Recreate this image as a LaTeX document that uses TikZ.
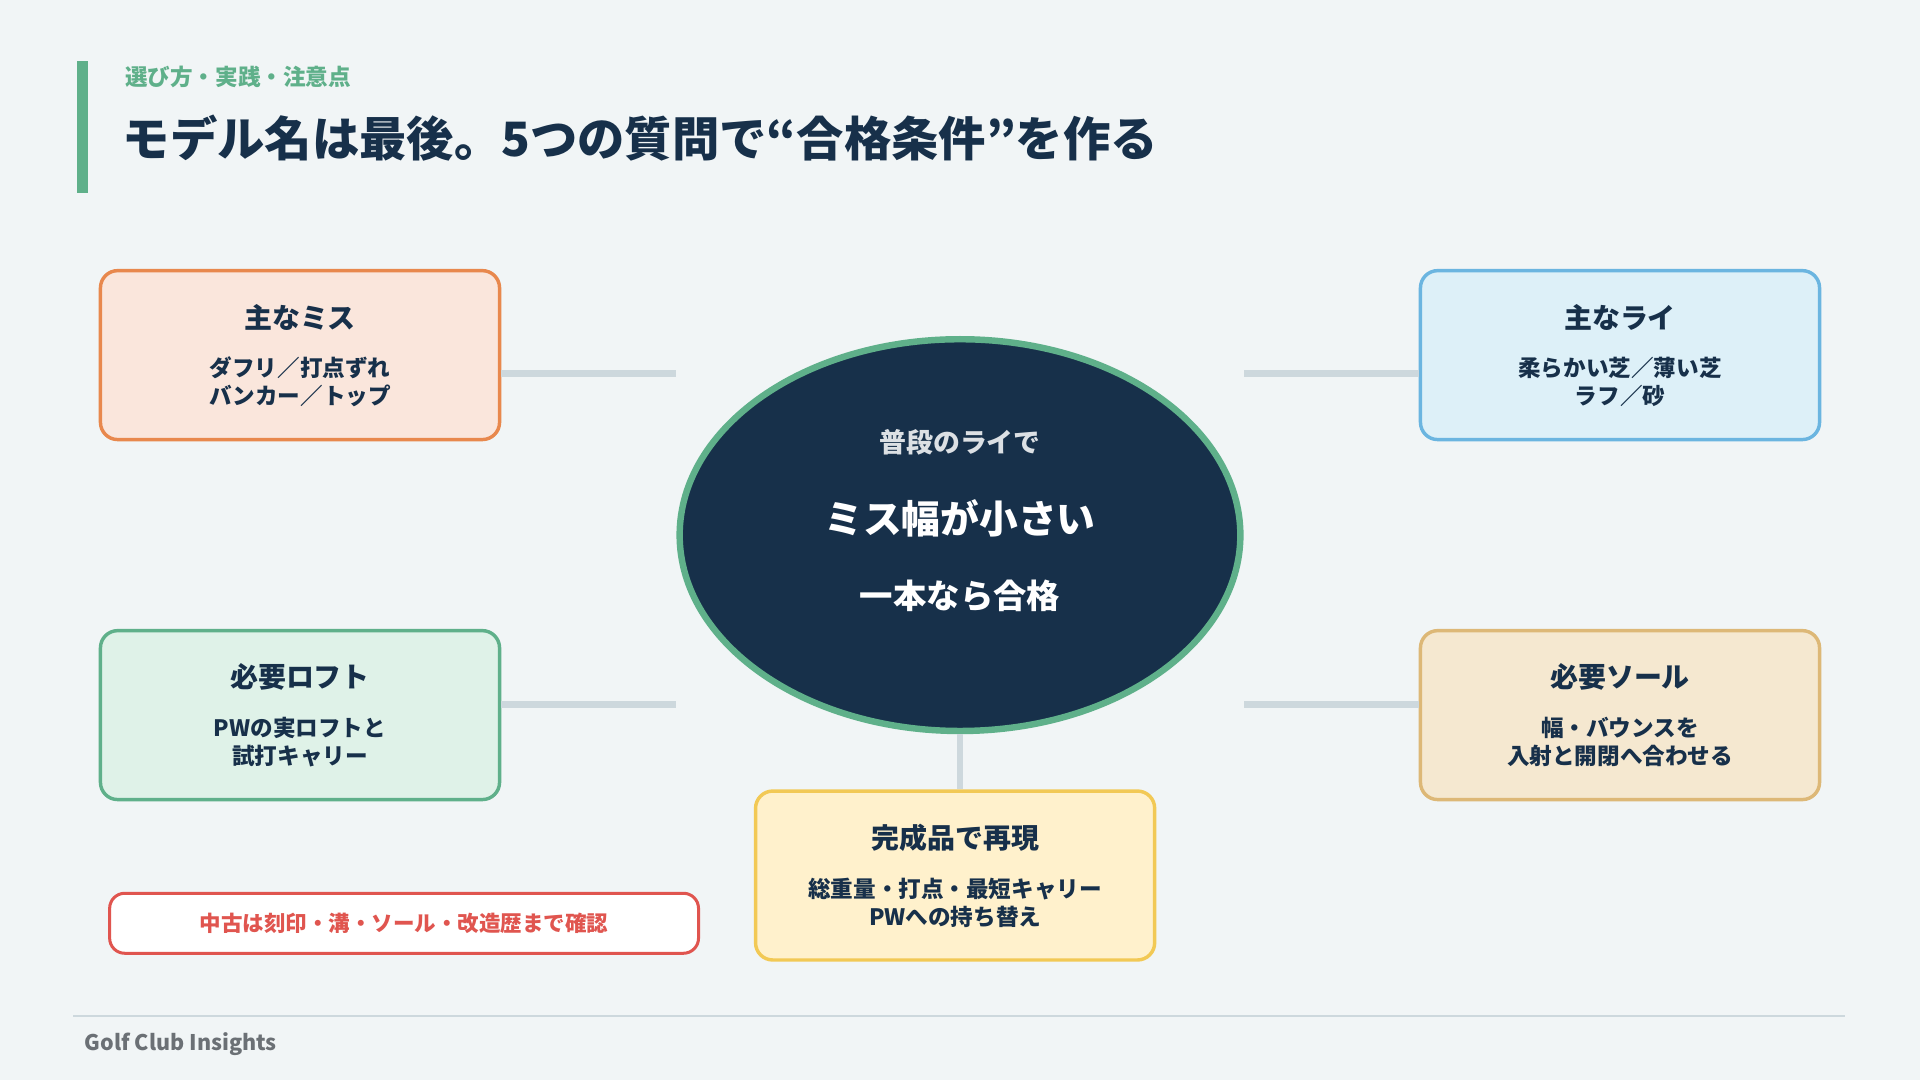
\documentclass[tikz,border=0pt]{standalone}
\usepackage{fontspec}
\setmainfont{Noto Sans CJK JP}
\usetikzlibrary{positioning,shapes.geometric}
\definecolor{bgPale}{HTML}{F1F5F6}
\definecolor{qNavy}{HTML}{17304A}
\definecolor{qGreen}{HTML}{5FB08A}
\definecolor{qLine}{HTML}{CDD8DD}
\definecolor{qRed}{HTML}{E0554F}
\definecolor{qOrangeFill}{HTML}{FAE6DC}
\definecolor{qOrangeLine}{HTML}{E8884D}
\definecolor{qBlueFill}{HTML}{DDF0F8}
\definecolor{qBlueLine}{HTML}{6BB5E0}
\definecolor{qMintFill}{HTML}{DFF2E8}
\definecolor{qSandFill}{HTML}{F5E8D0}
\definecolor{qSandLine}{HTML}{DDB877}
\definecolor{qYellowFill}{HTML}{FFF1CC}
\definecolor{qYellowLine}{HTML}{F2C955}

\begin{document}
\begin{tikzpicture}[
    x=0.02cm, y=-0.02cm,
    font=\bfseries,
    % 質問カード
    card/.style={
        draw, line width=1.6pt, rounded corners=8pt,
        minimum width=6.52cm, minimum height=2.76cm
    },
    cardtitle/.style={text=qNavy, font=\fontsize{13}{15}\selectfont\bfseries},
    cardbody/.style={text=qNavy, align=center, font=\fontsize{10.5}{13}\selectfont\bfseries},
    % 接続線
    link/.style={draw=qLine, line width=3.2pt}
]

    % --- 背景と見出し ---
    \fill[bgPale] (0,0) rectangle (1568,882);
    \fill[qGreen] (63,50) rectangle (72,158);
    \node[anchor=west, text=qGreen, font=\fontsize{10.5}{12}\selectfont\bfseries] (kicker) at (96,63) {選び方・実践・注意点};
    \node[anchor=west, text=qNavy, font=\fontsize{22}{26}\selectfont\bfseries] (title) at (94,113) {モデル名は最後。5つの質問で“合格条件”を作る};

    % --- 中央の楕円 ---
    \node[ellipse, fill=qNavy, draw=qGreen, line width=3pt,
          minimum width=9.16cm, minimum height=6.4cm] (core) at (784,437) {};
    \node[text=white!85!qNavy, font=\fontsize{12.5}{14}\selectfont\bfseries] (c1) at (784,361) {普段のライで};
    \node[text=white, font=\fontsize{18}{21}\selectfont\bfseries] (c2) at (784,423) {ミス幅が小さい};
    \node[text=white, font=\fontsize{15.5}{18}\selectfont\bfseries] (c3) at (784,487) {一本なら合格};

    % --- 5つのカード ---
    \node[card, fill=qOrangeFill, draw=qOrangeLine] (miss) at (245,290) {};
    \node[cardtitle] at (245,259) {主なミス};
    \node[cardbody] at (245,312) {ダフリ／打点ずれ\\バンカー／トップ};

    \node[card, fill=qBlueFill, draw=qBlueLine] (lie) at (1323,290) {};
    \node[cardtitle] at (1323,259) {主なライ};
    \node[cardbody] at (1323,312) {柔らかい芝／薄い芝\\ラフ／砂};

    \node[card, fill=qMintFill, draw=qGreen] (loft) at (245,584) {};
    \node[cardtitle] at (245,553) {必要ロフト};
    \node[cardbody] at (245,606) {PWの実ロフトと\\試打キャリー};

    \node[card, fill=qSandFill, draw=qSandLine] (sole) at (1323,584) {};
    \node[cardtitle] at (1323,553) {必要ソール};
    \node[cardbody] at (1323,606) {幅・バウンスを\\入射と開閉へ合わせる};

    \node[card, fill=qYellowFill, draw=qYellowLine] (repro) at (780,715) {};
    \node[cardtitle] at (780,684) {完成品で再現};
    \node[cardbody] at (780,737) {総重量・打点・最短キャリー\\PWへの持ち替え};

    % --- 接続線 ---
    \coordinate (mL) at (552,305);
    \coordinate (mR) at (1016,305);
    \coordinate (lL) at (552,575);
    \coordinate (lR) at (1016,575);
    \draw[link] (miss.east |- mL) -- (mL);
    \draw[link] (lie.west |- mR) -- (mR);
    \draw[link] (loft.east |- lL) -- (lL);
    \draw[link] (sole.west |- lR) -- (lR);
    \draw[link] (core.south) -- (core.south |- repro.north);

    % --- 注意書き ---
    \node[draw=qRed, fill=white, line width=1.4pt, rounded corners=7pt,
          minimum width=9.62cm, minimum height=0.98cm, text=qRed,
          font=\fontsize{10}{12}\selectfont\bfseries] (note) at (330,754) {中古は刻印・溝・ソール・改造歴まで確認};

    % --- フッター ---
    \draw[qLine, line width=0.8pt] (60,830) -- (1507,830);
    \node[anchor=west, text=gray!80!qNavy, font=\fontsize{10}{12}\selectfont\bfseries] (foot) at (63,853) {Golf Club Insights};
\end{tikzpicture}
\end{document}
